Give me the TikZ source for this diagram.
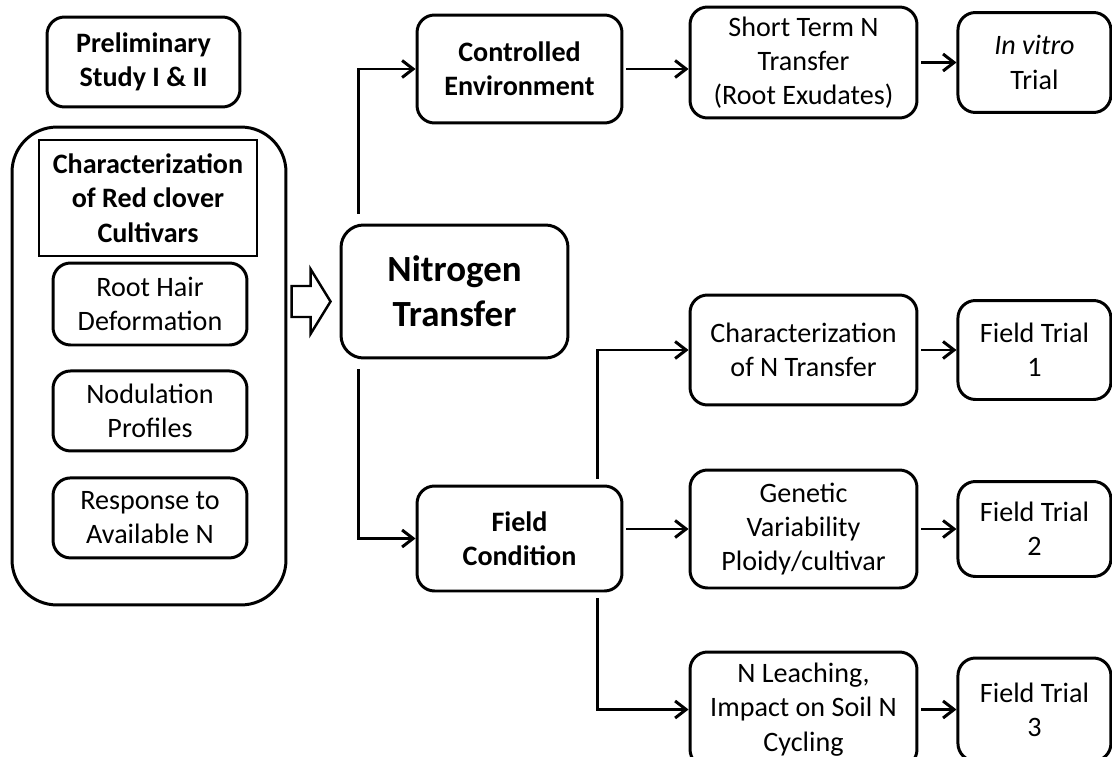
\documentclass[tikz,border=0pt]{standalone}
\usepackage{fontspec}
\setmainfont{Carlito}
\usetikzlibrary{arrows.meta,positioning,calc}

\begin{document}
\begin{tikzpicture}[
  x=0.02cm, y=-0.02cm,
  box/.style={draw, line width=1.7pt, rounded corners=3.5mm, fill=white, align=center, inner sep=2pt, font=\fontsize{16}{19.5}\selectfont},
  hbox/.style={box, font=\fontsize{16}{19.5}\selectfont\bfseries},
  arr/.style={-{Straight Barb[length=2.2mm,width=3.4mm]}, line width=1.7pt},
]
  \useasboundingbox (0,0) rectangle (1112,757);

  % preliminary studies
  \node[hbox, minimum width=3.86cm, minimum height=1.8cm] (prelim) at (143.5,62) {Preliminary\\Study I \& II};
  \node[draw, line width=1.7pt, rounded corners=9mm, minimum width=5.48cm, minimum height=9.56cm] (outer) at (149,366) {};
  \node[hbox, rounded corners=0pt, line width=1.3pt, minimum width=4.36cm, minimum height=2.32cm] (charact) at (148,198) {Characterization\\of Red clover\\Cultivars};
  \node[box, minimum width=3.88cm, minimum height=1.64cm] (roothair) at (150,304) {Root Hair\\Deformation};
  \node[box, minimum width=3.88cm, minimum height=1.6cm, below=0.46cm of roothair] (nodul) {Nodulation\\Profiles};
  \node[box, minimum width=3.88cm, minimum height=1.6cm, below=0.48cm of nodul] (respon) {Response to\\Available N};

  % main topic
  \node[hbox, rounded corners=4.5mm, minimum width=4.54cm, minimum height=2.66cm, font=\fontsize{21}{25.5}\selectfont\bfseries] (nitro) at (454.5,291.5) {Nitrogen\\Transfer};
  \coordinate (tip) at ([shift={(-9,10)}]nitro.west);
  \draw[line width=1.4pt, fill=white] (tip) -- ++(-20,-32.5) -- ++(0,17) -- ++(-19,0) -- ++(0,31) -- ++(19,0) -- ++(0,17) -- cycle;

  % two settings
  \node[hbox, minimum width=4.1cm, minimum height=2.16cm] (contr) at (519.5,69) {Controlled\\Environment};
  \node[hbox, minimum width=4.1cm, minimum height=2.1cm] (field) at (519.5,538.5) {Field\\Condition};

  % studies
  \node[box, minimum width=4.54cm, minimum height=2.22cm] (short) at (803.5,62.5) {Short Term N\\Transfer\\(Root Exudates)};
  \node[box, minimum width=4.54cm, minimum height=2.2cm] (charN) at (803.5,350) {Characterization\\of N Transfer};
  \node[box, minimum width=4.54cm, minimum height=2.36cm] (genet) at (803.5,529) {Genetic\\Variability\\Ploidy/cultivar};
  \node[box, minimum width=4.54cm, minimum height=2.3cm] (leach) at (803.5,709.5) {N Leaching,\\Impact on Soil N\\Cycling};

  % trials
  \node[box, minimum width=3.06cm, minimum height=2cm, right=0.76cm of short] (invitro) {\textit{In vitro}\\Trial};
  \node[box, minimum width=3.06cm, minimum height=1.98cm, right=0.76cm of charN] (trial1) {Field Trial\\1};
  \node[box, minimum width=3.06cm, minimum height=1.9cm, right=0.76cm of genet] (trial2) {Field Trial\\2};
  \node[box, minimum width=3.06cm, minimum height=2.06cm, right=0.76cm of leach] (trial3) {Field Trial\\3};

  \draw[arr] ([shift={(19,-10)}]nitro.north west) |- (contr.west);
  \draw[arr] ([shift={(19,10)}]nitro.south west) |- (field.west);
  \draw[arr] ([xshift=1.5pt]contr.east) -- (contr.east -| short.west);
  \draw[arr] ([shift={(-26,-6)}]field.north east) |- (charN.west);
  \draw[arr] ([xshift=1.5pt]field.east |- genet.west) -- (genet.west);
  \draw[arr] ([shift={(-26,6)}]field.south east) |- (leach.west);
  \draw[arr] ([xshift=1.5pt]short.east) -- (invitro.west);
  \draw[arr] ([xshift=1.5pt]charN.east) -- (trial1.west);
  \draw[arr] ([xshift=1.5pt]genet.east) -- (trial2.west);
  \draw[arr] ([xshift=1.5pt]leach.east) -- (trial3.west);
\end{tikzpicture}
\end{document}
